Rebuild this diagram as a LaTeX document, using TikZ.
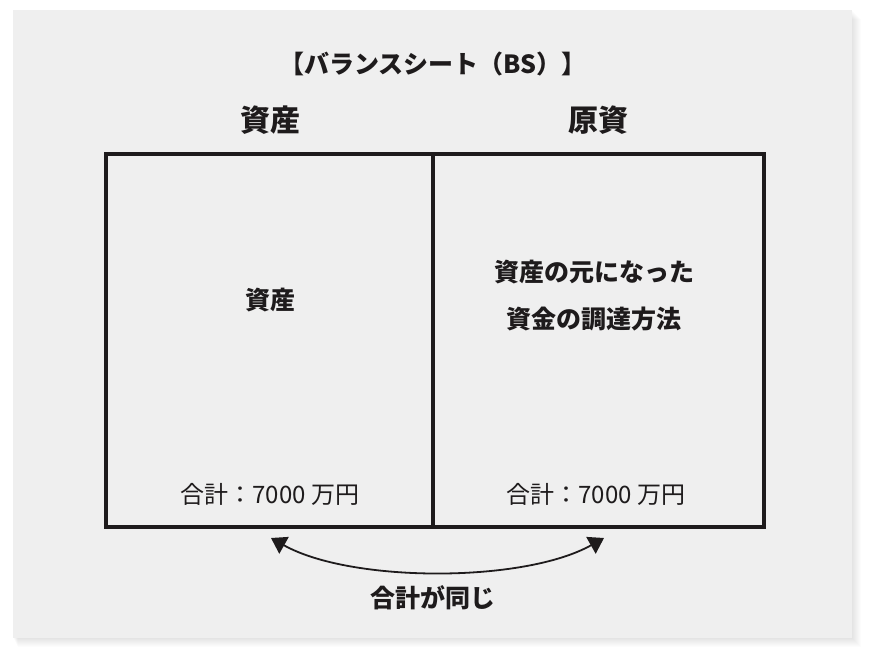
\documentclass[tikz,border=0pt]{standalone}
\usepackage{fontspec}
\setmainfont{Noto Sans CJK JP}
\usepackage{xcolor}
\usetikzlibrary{arrows.meta,positioning}
\definecolor{panel}{RGB}{239,239,239}
\definecolor{ink}{RGB}{30,27,28}
\tikzstyle{arrow} = [ink,line width=1.8pt,{Triangle[length=15pt,width=19pt]}-{Triangle[length=15pt,width=19pt]}]
\tikzstyle{cell} = [draw=ink,line width=3.3pt,minimum height=373pt,inner sep=0pt,outer sep=0pt]
\tikzstyle{head} = [ink,font=\bfseries\fontsize{30}{34}\selectfont]
\tikzstyle{inner} = [ink,font=\bfseries\fontsize{25}{47}\selectfont,align=center]
\tikzstyle{total} = [ink,font=\fontsize{24}{28}\selectfont]

\begin{document}
\begin{tikzpicture}[x=1pt,y=-1pt]
\useasboundingbox (0,0) rectangle (870,660);
\fill [white] (0,0) rectangle (870,660);
% panel with soft shadow
\foreach \s in {1,...,9}
  \fill [black,opacity=0.012] (13+\s*0.5,10+\s) rectangle (852+\s,638+\s);
\fill [panel] (13,10) rectangle (852,638);

\node [ink,font=\bfseries\fontsize{25}{30}\selectfont] (title) at (433,64) {【バランスシート（BS）】};

% the two halves
\node [cell,minimum width=327pt] (asset) at (269.5,340.5) {};
\node [cell,minimum width=331pt,anchor=west] (fund) at (asset.east) {};

\node [head] (assethead) at (270,120) {資産};
\node [head] (fundhead) at (598,120) {原資};

\node [inner] (assettext) at (270,300) {資産};
\node [inner] (fundtext) at (594,296) {資産の元になった\\資金の調達方法};

\node [total] (assetsum) at (270,494) {合計：7000 万円};
\node [total] (fundsum) at (596,494) {合計：7000 万円};

% same total
\coordinate (lt) at (271,538);
\coordinate (rt) at (604,538);
\draw [arrow] (lt) .. controls +(80,45) and +(-80,45) .. (rt);
\node [ink,font=\bfseries\fontsize{25}{30}\selectfont] (same) at (433,598) {合計が同じ};
\end{tikzpicture}
\end{document}
